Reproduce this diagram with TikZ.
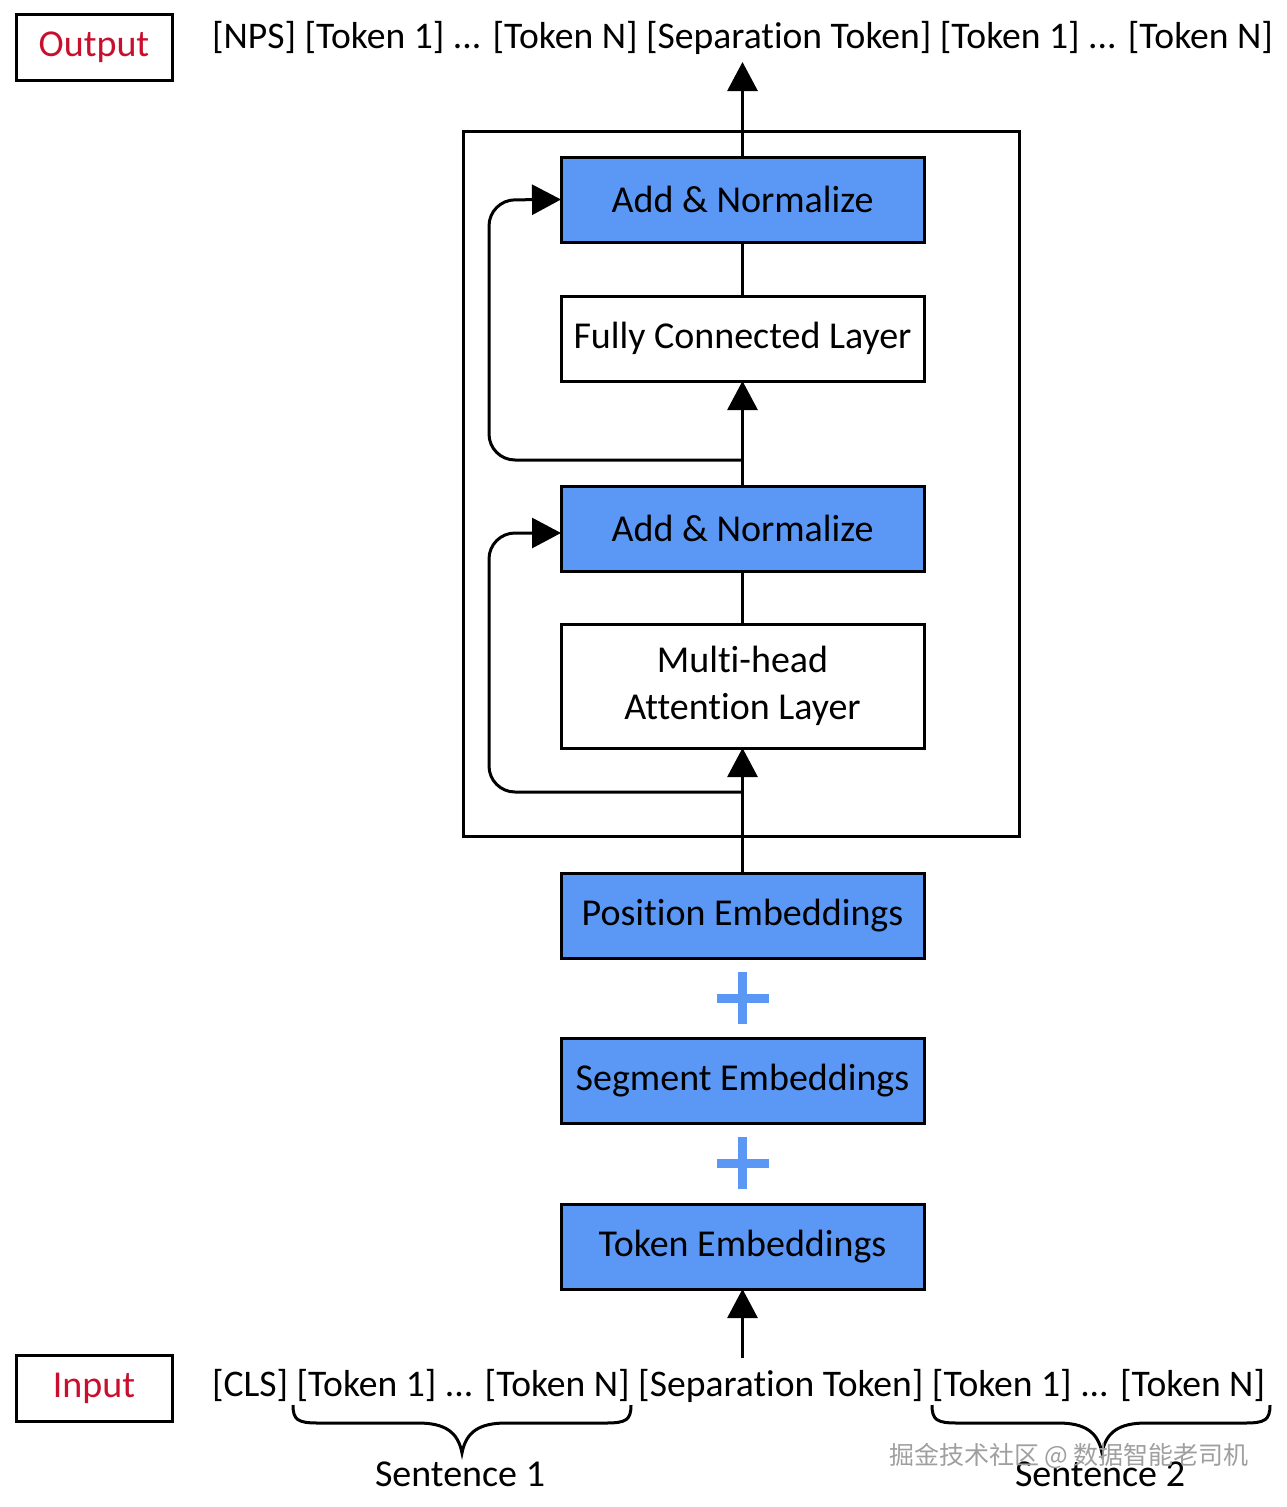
\documentclass[tikz,border=0pt]{standalone}
\usepackage{fontspec}
\setmainfont{Carlito}[Ligatures=NoCommon]
\newfontfamily\cjkfont{Noto Sans CJK SC}
\usetikzlibrary{arrows.meta}
\definecolor{boxblue}{HTML}{5B98F5}
\definecolor{labred}{HTML}{C8102E}
\definecolor{plusblue}{HTML}{5B98F5}
\begin{document}
\begin{tikzpicture}[x=1pt,y=-1pt,
  every node/.style={inner sep=0pt, outer sep=0pt},
  layer/.style={draw=black, line width=3pt, minimum width=363pt, minimum height=85pt, font=\fontsize{38}{44}\selectfont, align=center},
  bluelayer/.style={layer, fill=boxblue},
  whitelayer/.style={layer, fill=white},
  tag/.style={draw=black, line width=3pt, minimum width=156pt, minimum height=66pt, text=labred, font=\fontsize{38}{44}\selectfont},
  tokens/.style={font=\fontsize{37.6}{44}\selectfont, anchor=west},
  conn/.style={line width=3pt, draw=black},
  arr/.style={conn, -{Triangle[length=29pt,width=30pt]}},
  loop/.style={arr, rounded corners=26pt},
  brace/.style={line width=3pt, draw=black},
  plus/.style={draw=plusblue, line width=9pt}
]
\useasboundingbox (0,0) rectangle (1286,1507);

% outer block
\node[draw=black, line width=3pt, minimum width=556pt, minimum height=705pt] (block) at (741,483.5) {};

% layers
\node[bluelayer] (an1) at (742.5,199.5) {Add \& Normalize};
\node[whitelayer] (fc) at (742.5,338.5) {Fully Connected Layer};
\node[bluelayer] (an2) at (742.5,528.5) {Add \& Normalize};
\node[whitelayer, minimum height=124pt] (mha) at (742.5,686) {Multi-head\\[3pt]Attention Layer};
\node[bluelayer] (pos) at (742.5,915.5) {Position Embeddings};
\node[bluelayer] (seg) at (742.5,1081) {Segment Embeddings};
\node[bluelayer] (tok) at (742.5,1246.5) {Token Embeddings};

% plus signs
\coordinate (p1) at (742.5,998);
\coordinate (p2) at (742.5,1163);
\draw[plus] ([xshift=-26pt]p1) -- ([xshift=26pt]p1);
\draw[plus] ([yshift=-26pt]p1) -- ([yshift=26pt]p1);
\draw[plus] ([xshift=-26pt]p2) -- ([xshift=26pt]p2);
\draw[plus] ([yshift=-26pt]p2) -- ([yshift=26pt]p2);

% tags and token lines
\node[tag] (out) at (94,47) {Output};
\node[tag] (in) at (94,1388) {Input};
\node[tokens] (outtok) at (212,38) {[NPS] [Token 1] ... [Token N] [Separation Token] [Token 1] ... [Token N]};
\node[tokens] (intok) at (212,1386) {[CLS] [Token 1] ... [Token N] [Separation Token] [Token 1] ... [Token N]};

% connectors
\coordinate (topTip) at (742.5,62);
\coordinate (inBase) at (742.5,1358);
\draw[arr] (an1.north) -- (topTip);
\draw[conn] (an1.south) -- (fc.north);
\draw[arr] (an2.north) -- (fc.south);
\draw[conn] (an2.south) -- (mha.north);
\draw[arr] (pos.north) -- (mha.south);
\draw[arr] (inBase) -- (tok.south);

% residual loops
\coordinate (r1) at (742.5,460);
\coordinate (r2) at (742.5,792);
\draw[loop] (r1) -- (489,460) -- (489,200) -- (an1.west);
\draw[loop] (r2) -- (489,792) -- (489,533) -- (an2.west |- 0,533);

% braces
\coordinate (b1tip) at (462,1453);
\coordinate (b2tip) at (1102,1453);
\draw[brace] (293,1405) .. controls (293,1420) and (298,1423) .. (318,1423) -- (418,1423)
  .. controls (445,1423) and (458,1432) .. (b1tip)
  .. controls (466,1432) and (479,1423) .. (506,1423) -- (606,1423)
  .. controls (626,1423) and (631,1420) .. (631,1405);
\draw[brace] (932,1405) .. controls (932,1420) and (937,1423) .. (957,1423) -- (1058,1423)
  .. controls (1085,1423) and (1098,1432) .. (b2tip)
  .. controls (1106,1432) and (1119,1423) .. (1146,1423) -- (1245,1423)
  .. controls (1265,1423) and (1270,1420) .. (1270,1405);
\node[font=\fontsize{38}{44}\selectfont] (s1) at (460,1474) {Sentence 1};
\node[font=\fontsize{38}{44}\selectfont] (s2) at (1100,1474) {Sentence 2};

% watermark
\node[font=\cjkfont\fontsize{25}{28}\selectfont, text=gray!75] (wm) at (1069,1456) {掘金技术社区 @ 数据智能老司机};
\end{tikzpicture}
\end{document}
